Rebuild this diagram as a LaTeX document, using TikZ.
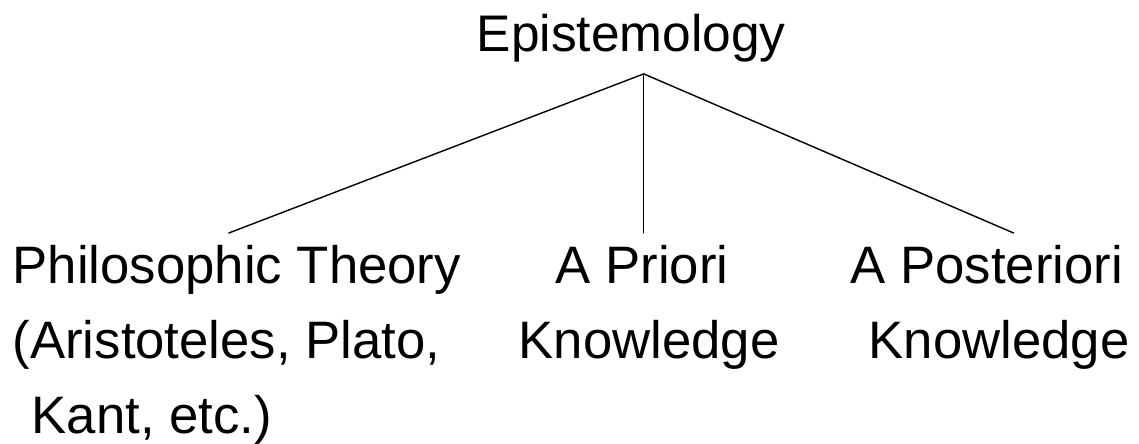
\documentclass[tikz,border=0pt]{standalone}
\usepackage{fontspec}
\setmainfont{Liberation Sans}
\begin{document}
\begin{tikzpicture}[line join=round, line cap=round, x=0.02cm, y=-0.02cm, line width=0.8pt]
	\tikzset{every node/.style={font=\fontsize{30pt}{42.7pt}\selectfont, inner xsep=0pt, inner ysep=0.23cm, align=left}}
	\useasboundingbox (0,0) rectangle (1139,443);
	\node[anchor=base west, font=\fontsize{29.3pt}{42.7pt}\selectfont] (epi) at (476,51) {Epistemology};
	\node[anchor=north west] (phil) at (12,233) {Philosophic Theory\\(Aristoteles, Plato,\\\hspace{0.38cm}Kant, etc.)};
	\node[anchor=north west] (prio) at (518,233) {\hspace{0.74cm}A Priori\\Knowledge};
	\node[anchor=north west] (post) at (850,233) {A Posteriori\\\hspace{0.36cm}Knowledge};
	% branches
	\coordinate (top) at ([xshift=0.25cm]epi.south);
	\draw (top) -- ([xshift=-0.16cm]phil.north);
	\draw (top) -- (top |- prio.north);
	\draw (top) -- ([xshift=0.47cm]post.north);
\end{tikzpicture}
\end{document}
